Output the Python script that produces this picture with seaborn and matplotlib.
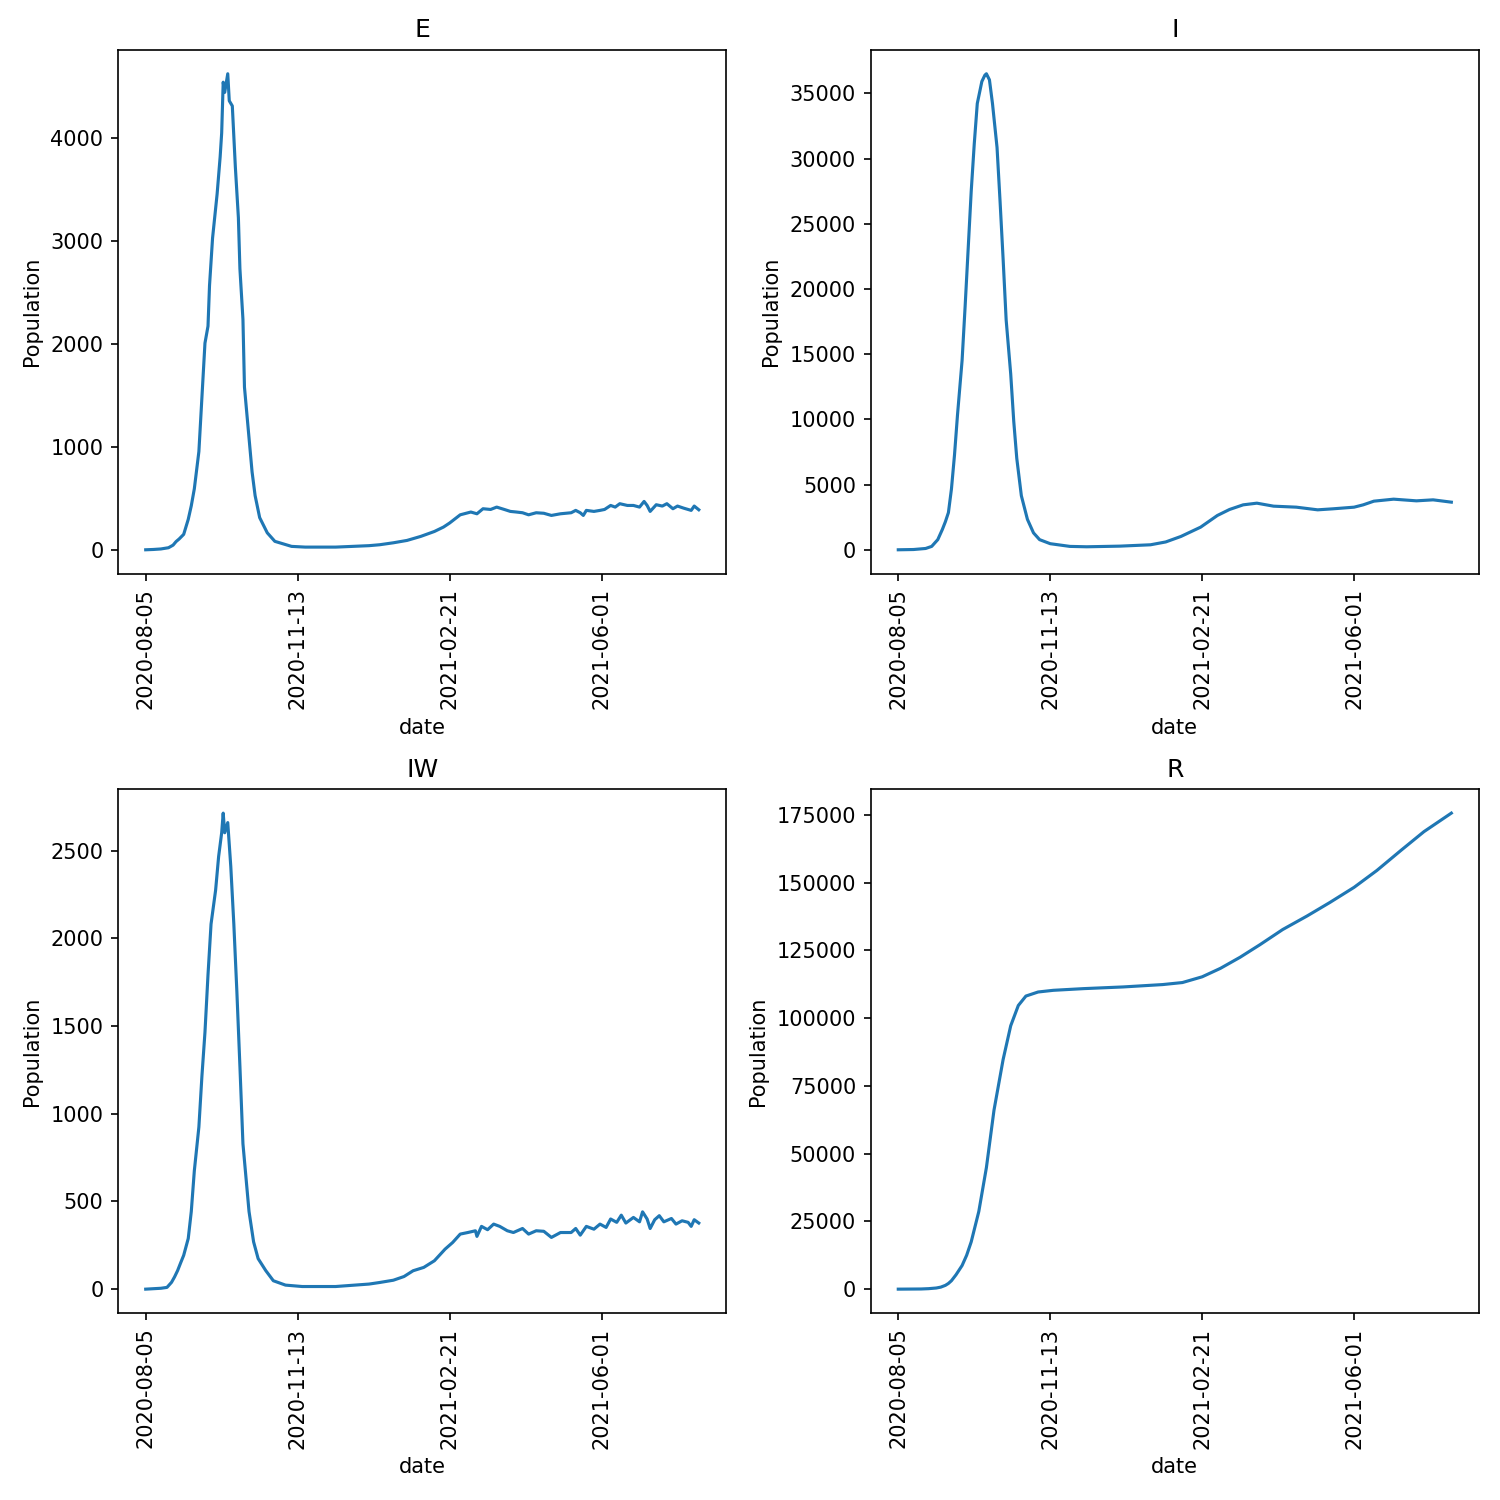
import numpy as np
import pandas as pd
import matplotlib
matplotlib.use("Agg")
import matplotlib.pyplot as plt
import matplotlib.dates as mdates
import seaborn as sns

start_date = "2020-08-05"
tick_days = [0, 100, 200, 300]

e_days = [0, 5, 10, 15, 18, 20, 22, 25, 28, 30, 32, 35, 37, 39, 41, 42, 44, 47, 49, 50, 51, 52, 54, 55, 57, 59, 61, 62, 64, 65, 68, 70, 72, 75, 80, 85, 96, 105, 125, 147, 154, 163, 172, 181, 190, 196, 200, 207, 214, 218, 222, 227, 231, 236, 240, 244, 248, 252, 257, 262, 267, 273, 280, 283, 286, 288, 290, 295, 299, 302, 306, 309, 312, 317, 321, 325, 328, 330, 332, 336, 340, 343, 347, 350, 354, 359, 361, 364]
e_vals = [0, 3, 8, 20, 45, 80, 105, 150, 296, 428, 593, 955, 1482, 2009, 2174, 2569, 3030, 3459, 3821, 4052, 4546, 4447, 4628, 4365, 4315, 3722, 3228, 2734, 2240, 1581, 1087, 758, 527, 313, 165, 82, 33, 26, 26, 40, 49, 68, 91, 130, 178, 221, 260, 340, 367, 350, 399, 392, 415, 392, 373, 367, 360, 340, 360, 355, 334, 350, 360, 383, 360, 334, 383, 373, 383, 392, 431, 415, 448, 431, 431, 415, 470, 431, 373, 438, 425, 448, 399, 425, 405, 383, 425, 389]

i_days = [0, 10, 18, 22, 26, 29, 31, 33, 35, 37, 39, 42, 44, 46, 48, 50, 52, 55, 57, 58, 60, 62, 65, 67, 69, 71, 74, 76, 78, 81, 85, 89, 93, 100, 113, 124, 133, 146, 166, 176, 186, 199, 210, 218, 227, 236, 247, 262, 276, 286, 300, 306, 313, 326, 341, 352, 364]
i_vals = [0, 20, 100, 260, 780, 1556, 2150, 2852, 4667, 7260, 10372, 14521, 18670, 23078, 27486, 31116, 34228, 35913, 36400, 36509, 36043, 34228, 30857, 26708, 22300, 17632, 13484, 9853, 7001, 4149, 2334, 1297, 778, 467, 259, 230, 250, 280, 383, 600, 1021, 1736, 2630, 3090, 3447, 3575, 3345, 3268, 3064, 3141, 3268, 3447, 3728, 3882, 3754, 3830, 3652]

iw_days = [0, 10, 14, 17, 19, 21, 23, 25, 28, 30, 32, 35, 37, 39, 41, 43, 46, 48, 50, 51, 52, 54, 56, 58, 60, 62, 64, 68, 71, 74, 79, 84, 92, 103, 125, 147, 154, 163, 170, 176, 183, 190, 195, 197, 202, 207, 212, 217, 218, 221, 225, 229, 233, 238, 242, 248, 252, 257, 262, 267, 273, 280, 283, 286, 290, 295, 299, 303, 306, 310, 313, 316, 321, 325, 327, 330, 332, 335, 338, 341, 346, 349, 353, 357, 359, 361, 364]
iw_vals = [0, 5, 10, 39, 70, 106, 150, 193, 289, 443, 675, 925, 1215, 1465, 1793, 2082, 2275, 2468, 2603, 2715, 2603, 2661, 2410, 2082, 1697, 1272, 829, 443, 270, 174, 106, 48, 23, 15, 15, 29, 38, 51, 72, 105, 124, 162, 209, 228, 266, 314, 323, 333, 301, 358, 339, 371, 358, 333, 323, 346, 314, 333, 330, 295, 323, 323, 346, 308, 358, 342, 371, 352, 400, 381, 422, 377, 409, 384, 441, 400, 346, 396, 419, 384, 403, 371, 390, 381, 358, 396, 377]

r_days = [0, 15, 20, 25, 28, 31, 33, 35, 38, 42, 45, 48, 53, 58, 63, 69, 74, 79, 84, 92, 102, 122, 148, 174, 187, 200, 212, 225, 238, 253, 269, 284, 300, 315, 331, 346, 364]
r_vals = [0, 60, 180, 420, 750, 1400, 2100, 3114, 5300, 8719, 12500, 17438, 28649, 44842, 66017, 84700, 97157, 104630, 108117, 109612, 110235, 110858, 111481, 112353, 113100, 115218, 118332, 122442, 127051, 132656, 137639, 142621, 148226, 154454, 161928, 168779, 175600]

panels = [("E", e_days, e_vals), ("I", i_days, i_vals),
          ("IW", iw_days, iw_vals), ("R", r_days, r_vals)]

t0 = pd.Timestamp(start_date)
fig, axes = plt.subplots(2, 2, figsize=(10, 10), dpi=150)
fig.subplots_adjust(left=0.0787, right=0.986, top=0.9667, bottom=0.1247,
                    wspace=0.237, hspace=0.412)
for ax, (name, d, v) in zip(axes.flat, panels):
    dates = t0 + pd.to_timedelta(d, unit="D")
    df = pd.DataFrame({"date": dates, "Population": v})
    sns.lineplot(data=df, x="date", y="Population", ax=ax, color="#1f77b4", linewidth=1.5)
    ax.set_title(name)
    ax.set_xlabel("date")
    ax.set_ylabel("Population")
    ticks = [t0 + pd.Timedelta(days=k) for k in tick_days]
    ax.set_xticks(ticks)
    ax.xaxis.set_major_formatter(mdates.DateFormatter("%Y-%m-%d"))
    ax.tick_params(axis="x", labelrotation=90)

fig.savefig("out.png", dpi=150)
